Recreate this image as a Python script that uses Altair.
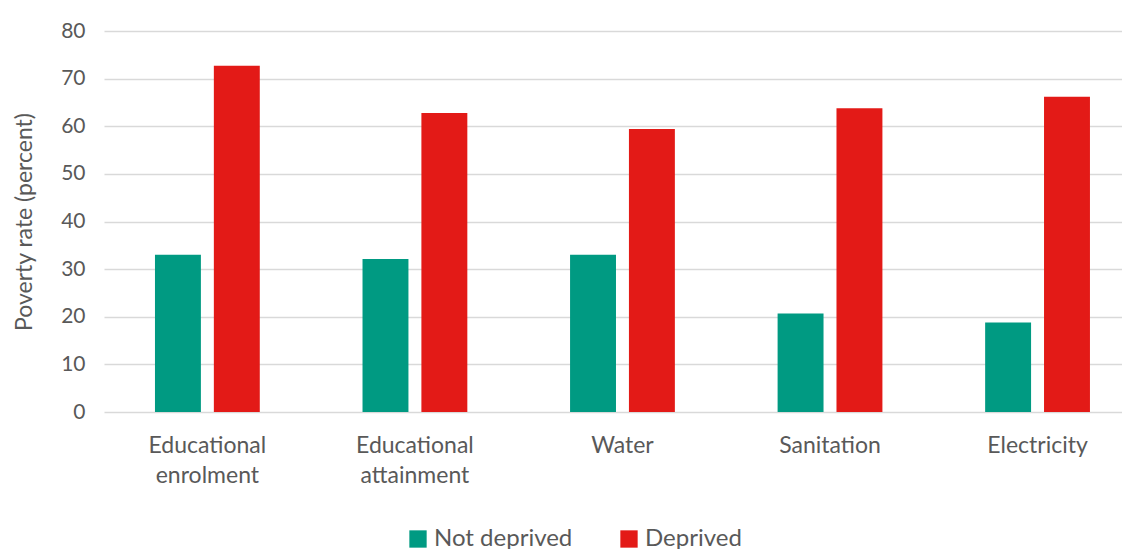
import altair as alt
import pandas as pd

categories = ["Educational enrolment", "Educational attainment", "Water", "Sanitation", "Electricity"]
not_deprived = [33.0, 32.1, 33.0, 20.7, 18.8]
deprived = [72.7, 62.8, 59.4, 63.8, 66.2]
series = ["Not deprived", "Deprived"]
colors = ["#009A82", "#E31A17"]

rows = []
for c, a, b in zip(categories, not_deprived, deprived):
    rows.append({"category": c, "series": series[0], "value": a})
    rows.append({"category": c, "series": series[1], "value": b})
df = pd.DataFrame(rows)

FONT = "Lato"
GREY = "#595959"

chart = alt.Chart(df).mark_bar().encode(
    x=alt.X("category:N", sort=categories,
            scale=alt.Scale(paddingInner=0.495, paddingOuter=0.2, align=0.614),
            axis=alt.Axis(title=None, labelAngle=0, ticks=False, domain=False,
                          labelFont=FONT, labelFontSize=23, labelColor=GREY,
                          labelPadding=22, labelLineHeight=30,
                          labelExpr="split(datum.label, ' ')")),
    xOffset=alt.XOffset("series:N", sort=series,
                        scale=alt.Scale(paddingInner=0.22, paddingOuter=0)),
    y=alt.Y("value:Q", scale=alt.Scale(domain=[0, 80]),
            axis=alt.Axis(title="Poverty rate (percent)", values=list(range(0, 81, 10)),
                          ticks=False, domain=False, grid=True,
                          gridColor="#d9d9d9", gridWidth=1.5,
                          labelFont=FONT, labelFontSize=21, labelColor=GREY,
                          labelPadding=19, titleFont=FONT, titleFontSize=23,
                          titleColor=GREY, titleFontWeight="normal", titlePadding=24)),
    color=alt.Color("series:N", sort=series,
                    scale=alt.Scale(domain=series, range=colors),
                    legend=alt.Legend(title=None, orient="none", direction="horizontal",
                                      legendX=302, legendY=496,
                                      symbolType="square", symbolSize=300,
                                      symbolStrokeWidth=0,
                                      labelFont=FONT, labelFontSize=24, labelColor=GREY,
                                      columnPadding=44)),
).properties(
    width=1018, height=381,
    padding={"left": 5, "top": 12, "right": 0, "bottom": 0}
).configure_view(stroke=None)

chart.save("out.html", embed_options={"renderer": "svg", "actions": False})
